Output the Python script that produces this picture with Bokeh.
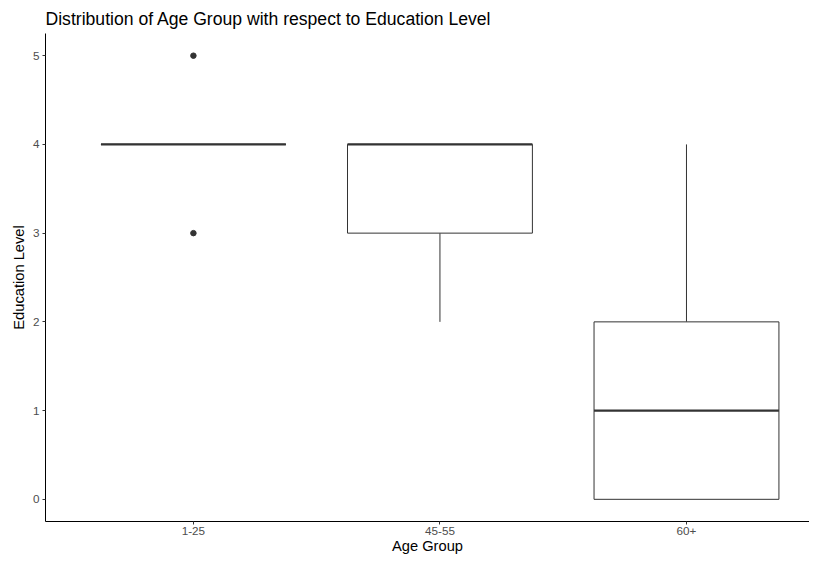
from bokeh.plotting import figure
from bokeh.models import FixedTicker, Range1d
from bokeh.embed import file_html
from bokeh.resources import INLINE

# Data
groups = ["1-25", "45-55", "60+"]
q1 = [4, 3, 0]
medians = [4, 4, 1]
q3 = [4, 4, 2]
whisk_low = [4, 2, 0]
whisk_high = [4, 4, 4]
outlier_group = ["1-25", "1-25"]
outlier_value = [5, 3]
y_ticks = [0, 1, 2, 3, 4, 5]

pos = {g: i + 1 for i, g in enumerate(groups)}
xs = [pos[g] for g in groups]
box_w = 0.75

FONT = "Liberation Sans"

p = figure(width=809, height=556, output_backend="svg", toolbar_location=None,
           x_range=Range1d(0.4, 3.499), y_range=Range1d(-0.25, 5.25),
           title="Distribution of Age Group with respect to Education Level")
p.min_border_left = 45
p.min_border_right = 0
p.min_border_top = 33
p.min_border_bottom = 0
p.outline_line_color = None
p.background_fill_color = "white"
p.border_fill_color = "white"
p.grid.visible = False

p.title.text_font = FONT
p.title.text_font_size = "17.6px"
p.title.text_font_style = "normal"
p.title.text_color = "black"
p.title.align = "left"
p.title.standoff = 9

for ax in (p.xaxis[0], p.yaxis[0]):
    ax.axis_line_color = "black"
    ax.axis_line_width = 1
    ax.major_tick_line_color = "#333333"
    ax.major_tick_in = 0
    ax.major_tick_out = 3
    ax.minor_tick_line_color = None
    ax.major_label_text_font = FONT
    ax.major_label_text_font_size = "11.7px"
    ax.major_label_text_color = "#4D4D4D"
    ax.axis_label_text_font = FONT
    ax.axis_label_text_font_size = "14.7px"
    ax.axis_label_text_font_style = "normal"
    ax.axis_label_text_color = "black"

p.xaxis.ticker = FixedTicker(ticks=xs)
p.xaxis.major_label_overrides = {pos[g]: g for g in groups}
p.xaxis.axis_label = "Age Group"
p.xaxis.major_label_standoff = 2
p.xaxis.axis_label_standoff = 0

p.yaxis.ticker = FixedTicker(ticks=y_ticks)
p.yaxis.axis_label = "Education Level"
p.yaxis.major_label_standoff = 3
p.yaxis.axis_label_standoff = 3

# whiskers
p.segment(x0=xs, y0=q3, x1=xs, y1=whisk_high, line_color="#333333", line_width=1)
p.segment(x0=xs, y0=whisk_low, x1=xs, y1=q1, line_color="#333333", line_width=1)
# boxes
p.vbar(x=xs, width=box_w, bottom=q1, top=q3, fill_color="white",
       line_color="#333333", line_width=1)
# medians
p.segment(x0=[x - box_w / 2 for x in xs], y0=medians,
          x1=[x + box_w / 2 for x in xs], y1=medians,
          line_color="#333333", line_width=2.2)
# outliers
p.scatter(x=[pos[g] for g in outlier_group], y=outlier_value, size=5.5,
          fill_color="#333333", line_color="#333333")

open("out.html", "w").write(file_html(p, INLINE))
